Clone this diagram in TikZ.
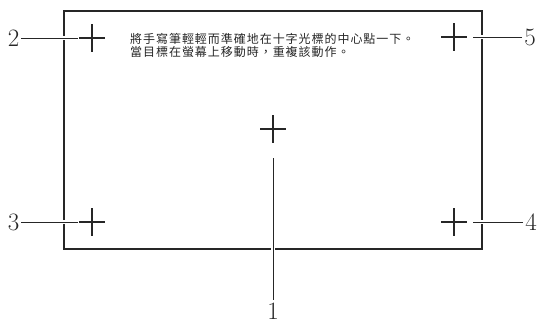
\documentclass[tikz,border=0pt]{standalone}
\usepackage{fontspec}
\newfontfamily\cjk[LetterSpace=8]{Noto Sans CJK TC}
\begin{document}
\begin{tikzpicture}[x=1pt,y=-1pt,
  border/.style={draw=black!85, line width=1.1pt},
  crossmark/.style={draw=black!85, line width=1.5pt},
  leader/.style={draw=black!85, line width=0.9pt, preaction={draw=white, line width=4pt}},
  numlabel/.style={inner sep=0pt, font=\fontsize{25}{25}\selectfont, text=black!85},
  note/.style={inner sep=0pt, anchor=west, align=left, font=\cjk\fontsize{12}{13.5}\selectfont, text=black!85}]
\useasboundingbox (0,0) rectangle (537,325);
\draw[border] (64,11) rectangle (482,249);
% crosshair centres
\coordinate (c1) at (273,129);
\coordinate (c2) at (92,38);
\coordinate (c3) at (92,222);
\coordinate (c4) at (454,222);
\coordinate (c5) at (454,37);
\foreach \c in {c1,c2,c3,c4,c5}{
  \draw[crossmark] ([xshift=-13pt]\c) -- ([xshift=13pt]\c);
  \draw[crossmark] ([yshift=14pt]\c) -- ([yshift=-14pt]\c);
}
% labels
\node[numlabel] (l1) at (273,311) {1};
\node[numlabel] (l2) at (13.5,38) {2};
\node[numlabel] (l3) at (13.5,222) {3};
\node[numlabel] (l4) at (531,222) {4};
\node[numlabel] (l5) at (530,37) {5};
% leader ends near crosses
\coordinate (e1) at (273,158);
\coordinate (e2) at (78,38);
\coordinate (e3) at (78,222);
\coordinate (e4) at (473,222);
\coordinate (e5) at (473,37);
\draw[leader] (l1.north) ++(0,3pt) -- (e1);
\draw[leader] (l2.east) ++(2pt,0) -- (e2);
\draw[leader] (l3.east) ++(2pt,0) -- (e3);
\draw[leader] (l4.west) ++(-2pt,0) -- (e4);
\draw[leader] (l5.west) ++(-2pt,0) -- (e5);
\node[note] (txt) at (130,45.5) {將手寫筆輕輕而準確地在十字光標的中心點一下。\\當目標在螢幕上移動時，重複該動作。};
\end{tikzpicture}
\end{document}
